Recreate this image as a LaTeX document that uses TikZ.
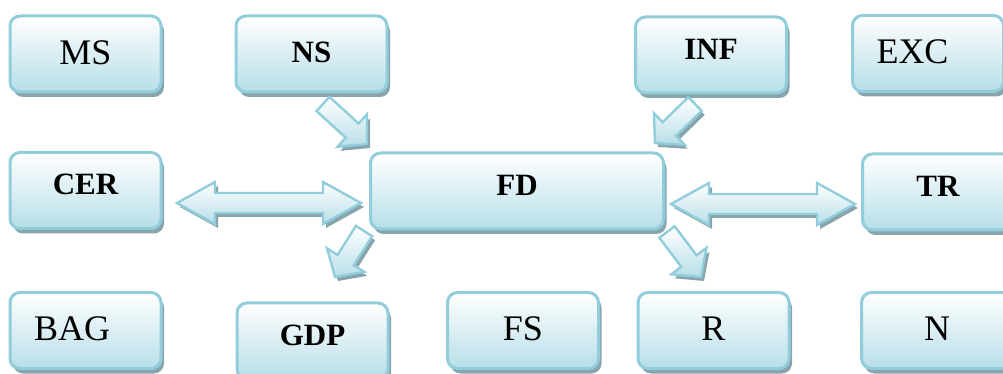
\documentclass[tikz,border=0pt]{standalone}
\usepackage{fontspec}
\setmainfont{Liberation Serif}
\usepackage{tikz}
\usetikzlibrary{shadows, calc}
\definecolor{boxline}{RGB}{146,205,220}
\definecolor{boxfill}{RGB}{183,222,232}
\definecolor{boxshade}{RGB}{136,164,173}
\tikzstyle{box} = [rectangle, rounded corners=5pt, minimum width=75.5pt, minimum height=38pt, inner sep=0pt, outer sep=0pt, draw=boxline, line width=1.5pt, top color=white, bottom color=boxfill, drop shadow={shadow xshift=1.5pt, shadow yshift=-2.5pt, fill=boxshade, opacity=1}]
\tikzstyle{plain} = [box, font=\fontsize{18pt}{20pt}\selectfont, text height=11.9pt, text depth=1.5pt]
\tikzstyle{heavy} = [box, font=\fontsize{15.5pt}{18pt}\selectfont\bfseries, text height=10.3pt, text depth=6pt]
\tikzstyle{leftbox} = [align=left, text width=51.5pt, inner xsep=11.75pt]
\tikzstyle{flow} = [draw=boxline, line width=1.2pt, line join=miter, top color=white, bottom color=boxfill, drop shadow={shadow xshift=1.5pt, shadow yshift=-2pt, fill=boxshade, opacity=1}]
% block arrows: tips #1 and #2
\newcommand{\twoway}[2]{%
  \path ($(#1)!19pt!(#2)$) coordinate (pa) ($(#2)!19pt!(#1)$) coordinate (pb);
  \draw [flow] (#1) -- ($(pa)!10.5pt!90:(#2)$) -- ($(pa)!5pt!90:(#2)$) -- ($(pb)!5pt!90:(#2)$) -- ($(pb)!10.5pt!90:(#2)$) -- (#2)
    -- ($(pb)!10.5pt!-90:(#2)$) -- ($(pb)!5pt!-90:(#2)$) -- ($(pa)!5pt!-90:(#2)$) -- ($(pa)!10.5pt!-90:(#2)$) -- cycle;}
% tail #1, tip #2
\newcommand{\oneway}[2]{%
  \path ($(#2)!10pt!(#1)$) coordinate (pa);
  \draw [flow] ($(#1)!4.8pt!90:(#2)$) -- ($(pa)!4.8pt!90:(#2)$) -- ($(pa)!11pt!90:(#2)$) -- (#2)
    -- ($(pa)!11pt!-90:(#2)$) -- ($(pa)!4.8pt!-90:(#2)$) -- ($(#1)!4.8pt!-90:(#2)$) -- cycle;}

\begin{document}
\begin{tikzpicture}[x=0.5pt, y=-0.5pt]
    \useasboundingbox (0,0) rectangle (1003,374);
    % top row
    \node (ms) [plain] at (85.5,54) {MS};
    \node (ns) [heavy, text depth=1.5pt] at (311.5,54) {NS};
    \node (inf) [heavy] at (711,55) {INF};
    \node (exc) [plain, leftbox] at (928,53.5) {EXC};
    % middle row
    \node (cer) [heavy] at (85.5,190.5) {CER};
    \node (fd) [heavy, minimum width=146.5pt] at (517,191) {FD};
    \node (tr) [heavy] at (938,192) {TR};
    % bottom row
    \node (bag) [plain, leftbox] at (85.5,330.5) {BAG};
    \node (gdp) [heavy] at (312.5,341) {GDP};
    \node (fs) [plain] at (523,330.5) {FS};
    \node (r) [plain] at (713.5,330.5) {R};
    \node (n) [plain] at (937,330.5) {N};
    % arrow ends
    \coordinate (cf1) at ($(cer.east)+(16,12.5)$);
    \coordinate (cf2) at ($(fd.west)+(-9.5,12)$);
    \coordinate (ft1) at ($(fd.east)+(7.5,13)$);
    \coordinate (ft2) at ($(tr.west)+(-7.5,12)$);
    \coordinate (nf1) at ($(ns.south)+(11.5,12)$);
    \coordinate (nf2) at ($(fd.north west)+(-3.5,-9)$);
    \coordinate (if1) at ($(inf.south)+(-16,11)$);
    \coordinate (if2) at ($(fd.north east)+(-8.5,-10)$);
    \coordinate (fg1) at ($(fd.south west)+(-6.5,2)$);
    \coordinate (fg2) at ($(gdp.north)+(22.5,-26)$);
    \coordinate (fr1) at ($(fd.south east)+(3.5,3)$);
    \coordinate (fr2) at ($(r.north)+(-12.5,-15.5)$);
    \twoway{cf1}{cf2}
    \twoway{ft1}{ft2}
    \oneway{nf1}{nf2}
    \oneway{if1}{if2}
    \oneway{fg1}{fg2}
    \oneway{fr1}{fr2}
\end{tikzpicture}
\end{document}
